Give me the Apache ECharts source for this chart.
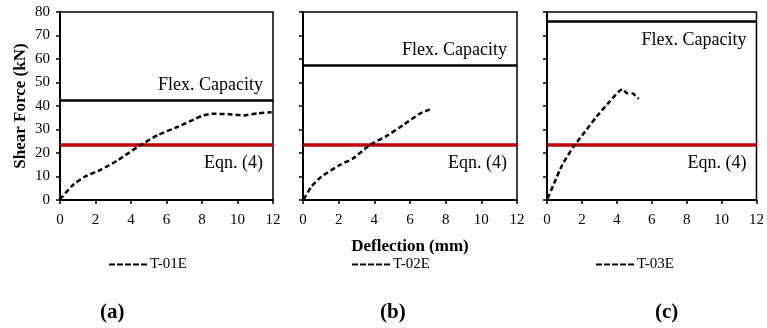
<!DOCTYPE html>
<html>
<head>
<meta charset="utf-8">
<script src="https://cdn.jsdelivr.net/npm/echarts@6/dist/echarts.min.js"></script>
<style>html,body{margin:0;padding:0;background:#fff;}#c{width:767px;height:328px;}</style>
</head>
<body>
<div id="c"></div>
<script>
// Data
const xTicks = [0, 2, 4, 6, 8, 10, 12];
const yTicks = [0, 10, 20, 30, 40, 50, 60, 70, 80];
const seriesNames = ['T-01E', 'T-02E', 'T-03E'];
const panelLabels = ['(a)', '(b)', '(c)'];
const t01e = [[0,0.3],[0.73,6.4],[1.39,9.9],[2.33,13.0],[3.27,17.0],[4.40,22.7],[5.53,27.7],[6.66,31.2],[7.97,35.7],[8.54,36.7],[9.48,36.5],[10.33,36.0],[11.17,36.9],[11.92,37.3]];
const t02e = [[0.04,0.3],[0.47,5.7],[1.03,9.9],[2.06,14.9],[2.81,17.7],[3.75,23.4],[4.68,27.2],[5.62,31.9],[6.52,36.6],[7.11,38.6]];
const t03e = [[0.04,0.7],[0.41,7.1],[0.87,14.9],[1.52,22.7],[2.18,29.1],[2.83,35.4],[3.58,41.8],[4.32,47.1],[4.60,45.4],[4.88,45.4],[5.25,43.0]];
const flexCapacity = [42.3, 57.4, 76.2];
const eqn4 = [23.3, 23.3, 23.3];
const flexLabel = 'Flex. Capacity';
const eqnLabel = 'Eqn. (4)';
const xName = 'Deflection (mm)';
const yName = 'Shear Force (kN)';

const curves = [t01e, t02e, t03e];
const FONT = '"Liberation Serif", "Times New Roman", serif';
const gridLefts = [60, 303, 547];
const gridWidths = [213, 214, 215];
const flexPos = ['insideEndTop', 'insideEndTop', 'insideEndBottom'];

const grids = [], xAxes = [], yAxes = [], series = [], legends = [], graphics = [];
for (let i = 0; i < 3; i++) {
  grids.push({left: gridLefts[i], top: 12, width: gridWidths[i], height: 188, show: true,
    borderColor: '#000', borderWidth: 1.5, backgroundColor: 'transparent'});
  xAxes.push({type: 'value', gridIndex: i, min: xTicks[0], max: xTicks[xTicks.length-1], interval: 2,
    axisLine: {lineStyle: {color: '#000', width: 2}}, axisTick: {length: 4, lineStyle: {color: '#000', width: 1.5}},
    axisLabel: {color: '#000', fontFamily: FONT, fontSize: 15, margin: 13},
    splitLine: {show: false},
    name: i === 1 ? xName : '', nameLocation: 'middle', nameGap: 38,
    nameTextStyle: {color: '#000', fontFamily: FONT, fontSize: 17, fontWeight: 'bold'}});
  yAxes.push({type: 'value', gridIndex: i, min: yTicks[0], max: yTicks[yTicks.length-1], interval: 10,
    axisLine: {show: true, lineStyle: {color: '#000', width: 2}}, axisTick: {show: true, length: 4, lineStyle: {color: '#000', width: 1.5}},
    axisLabel: {show: i === 0, color: '#000', fontFamily: FONT, fontSize: 15, margin: 10},
    splitLine: {show: false},
    name: i === 0 ? yName : '', nameLocation: 'middle', nameGap: 31,
    nameTextStyle: {color: '#000', fontFamily: FONT, fontSize: 17, fontWeight: 'bold'}});
  series.push({name: seriesNames[i], type: 'line', xAxisIndex: i, yAxisIndex: i, data: curves[i],
    symbol: 'none', smooth: 0.2, lineStyle: {color: '#000', width: 2.5, type: [5, 3]}, itemStyle: {color: '#000'},
    z: 5,
    markLine: {silent: true, symbol: 'none', animation: false,
      data: [
        {yAxis: flexCapacity[i], lineStyle: {color: '#000', width: 2.5, type: 'solid'},
         label: {show: true, position: flexPos[i], formatter: flexLabel, color: '#000', fontFamily: FONT, fontSize: 18, distance: [10, i === 2 ? 10 : 6]}},
        {yAxis: eqn4[i], lineStyle: {color: '#c00000', width: 3.5, type: 'solid'},
         label: {show: true, position: 'insideEndBottom', formatter: eqnLabel, color: '#000', fontFamily: FONT, fontSize: 18, distance: [10, 9]}}
      ]}});
  legends.push({data: [seriesNames[i]], left: gridLefts[i] + 44, top: 252, itemWidth: 38, itemHeight: 12, itemGap: 4,
    icon: 'path://M0,5 L6,5 L6,7 L0,7 Z M8,5 L14,5 L14,7 L8,7 Z M16,5 L22,5 L22,7 L16,7 Z M24,5 L30,5 L30,7 L24,7 Z M32,5 L38,5 L38,7 L32,7 Z',
    itemStyle: {color: '#000'},
    textStyle: {color: '#000', fontFamily: FONT, fontSize: 15, padding: [0,0,0,-2]}});
  graphics.push({type: 'text', left: [100, 380, 655][i], top: 302,
    style: {text: panelLabels[i], fill: '#000', font: 'bold 21px ' + FONT}});
}

const chart = echarts.init(document.getElementById('c'), null, {renderer: 'canvas'});
chart.setOption({
  animation: false,
  backgroundColor: '#fff',
  grid: grids, xAxis: xAxes, yAxis: yAxes, series: series, legend: legends, graphic: graphics
});
</script>
</body>
</html>
